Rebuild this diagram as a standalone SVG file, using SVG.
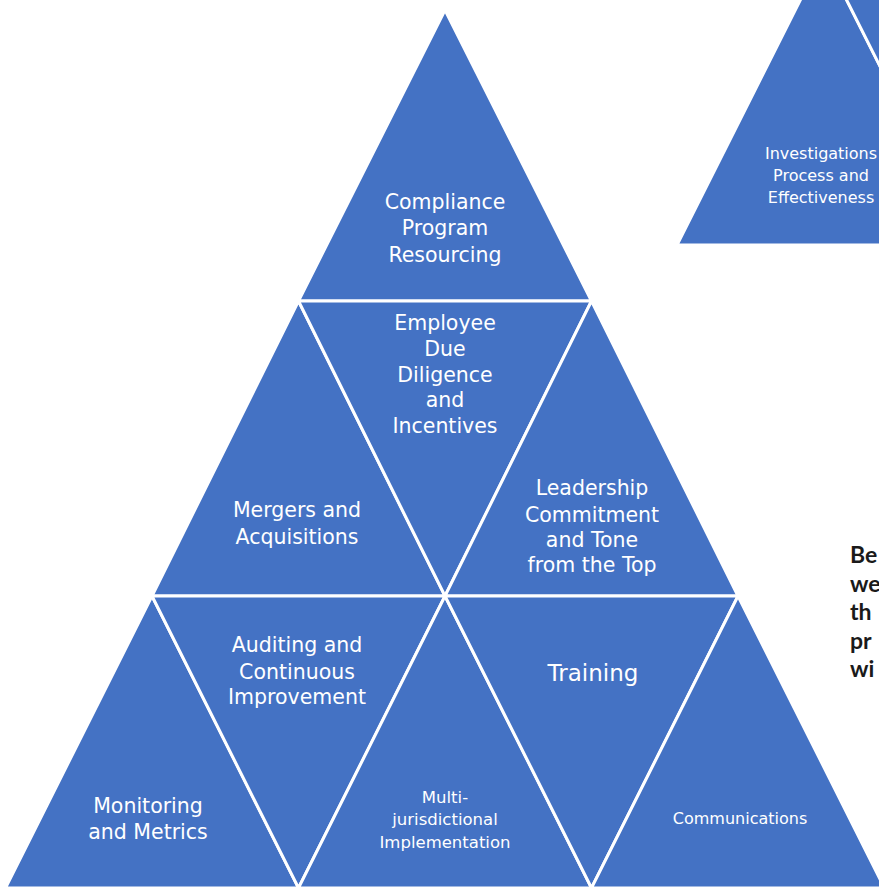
<svg xmlns="http://www.w3.org/2000/svg" width="879" height="888" viewBox="0 0 879 888">
<style>
  .tri { fill: #4472C4; stroke: #ffffff; stroke-width: 3; stroke-linejoin: miter; }
  .lbl { fill: #ffffff; font-family: "DejaVu Sans", "Liberation Sans", sans-serif; font-size: 20.5px; text-anchor: middle; }
  .sm { font-size: 16.5px; }
  .md { font-size: 16px; }
  .lg { font-size: 23px; }
  .side { fill: #1a1a1a; font-family: Lato, "Liberation Sans", sans-serif; font-weight: bold; font-size: 23px; }
</style>
<rect x="0" y="0" width="879" height="888" fill="#ffffff"/>

<g id="investigations">
  <polygon class="tri" points="823.5,-46 970,245 677,245"/>
  <text class="lbl md" x="821" y="159">Investigations</text>
  <text class="lbl md" x="821" y="181">Process and</text>
  <text class="lbl md" x="821" y="203">Effectiveness</text>
</g>
<g id="offscreen-inverted">
  <polygon class="tri" points="823.5,-46 1116.5,-46 970,245"/>
</g>

<g id="compliance-resourcing">
  <polygon class="tri" points="445,10 591.5,301 298.5,301"/>
  <text class="lbl" x="445" y="209">Compliance</text>
  <text class="lbl" x="445" y="235">Program</text>
  <text class="lbl" x="445" y="262">Resourcing</text>
</g>

<g id="mergers">
  <polygon class="tri" points="298.5,301 445,596 152,596"/>
  <text class="lbl" x="297" y="517">Mergers and</text>
  <text class="lbl" x="297" y="544">Acquisitions</text>
</g>

<g id="employee-due-diligence">
  <polygon class="tri" points="298.5,301 591.5,301 445,596"/>
  <text class="lbl" x="445" y="330">Employee</text>
  <text class="lbl" x="445" y="356">Due</text>
  <text class="lbl" x="445" y="382">Diligence</text>
  <text class="lbl" x="445" y="407">and</text>
  <text class="lbl" x="445" y="433">Incentives</text>
</g>

<g id="leadership">
  <polygon class="tri" points="591.5,301 738,596 445,596"/>
  <text class="lbl" x="592" y="495">Leadership</text>
  <text class="lbl" x="592" y="522">Commitment</text>
  <text class="lbl" x="592" y="547">and Tone</text>
  <text class="lbl" x="592" y="572">from the Top</text>
</g>

<g id="monitoring">
  <polygon class="tri" points="152,596 298.5,888 5.5,888"/>
  <text class="lbl" x="148" y="813">Monitoring</text>
  <text class="lbl" x="148" y="839">and Metrics</text>
</g>

<g id="auditing">
  <polygon class="tri" points="152,596 445,596 298.5,888"/>
  <text class="lbl" x="297" y="652">Auditing and</text>
  <text class="lbl" x="297" y="679">Continuous</text>
  <text class="lbl" x="297" y="704">Improvement</text>
</g>

<g id="multi-jurisdictional">
  <polygon class="tri" points="445,596 591.5,888 298.5,888"/>
  <text class="lbl sm" x="445" y="803">Multi-</text>
  <text class="lbl sm" x="445" y="825">jurisdictional</text>
  <text class="lbl sm" x="445" y="848">Implementation</text>
</g>

<g id="training">
  <polygon class="tri" points="445,596 738,596 591.5,888"/>
  <text class="lbl lg" x="593" y="681">Training</text>
</g>

<g id="communications">
  <polygon class="tri" points="738,596 884.5,888 591.5,888"/>
  <text class="lbl md" x="740" y="824">Communications</text>
</g>

<g id="connectors"></g>

<g id="side-text">
  <text class="side" x="850" y="563">Be</text>
  <text class="side" x="850" y="592">we</text>
  <text class="side" x="850" y="620">th</text>
  <text class="side" x="850" y="649">pr</text>
  <text class="side" x="850" y="677">wi</text>
</g>
</svg>
